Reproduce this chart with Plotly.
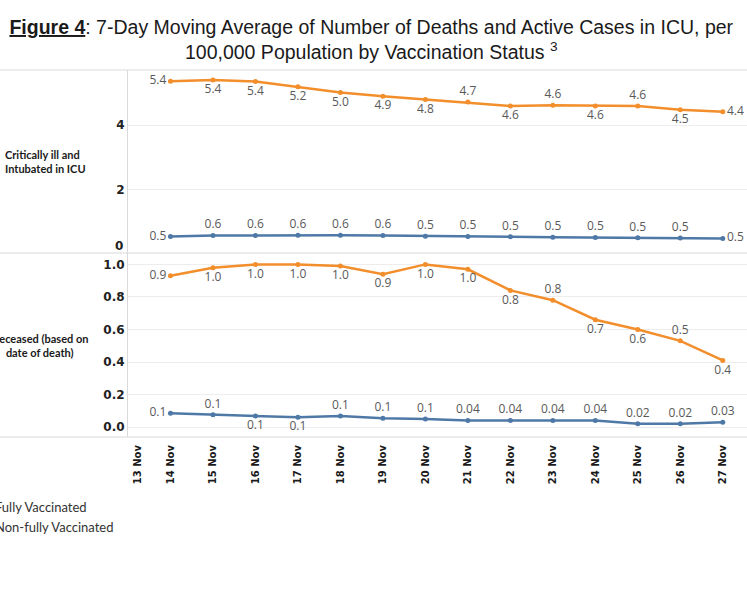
import plotly.graph_objects as go
from plotly.subplots import make_subplots

# --- data ---
tick_labels = ["13 Nov", "14 Nov", "15 Nov", "16 Nov", "17 Nov", "18 Nov", "19 Nov", "20 Nov",
               "21 Nov", "22 Nov", "23 Nov", "24 Nov", "25 Nov", "26 Nov", "27 Nov"]
dates = tick_labels[1:]

icu_full = [0.53, 0.56, 0.56, 0.57, 0.57, 0.56, 0.54, 0.53, 0.52, 0.51, 0.50, 0.49, 0.48, 0.47]
icu_nonfull = [5.37, 5.41, 5.36, 5.20, 5.02, 4.90, 4.80, 4.72, 4.60, 4.62, 4.60, 4.60, 4.48, 4.42]
dec_full = [0.085, 0.076, 0.068, 0.06, 0.068, 0.055, 0.05, 0.04, 0.04, 0.04, 0.04, 0.02, 0.02, 0.03]
dec_nonfull = [0.93, 0.98, 1.0, 1.0, 0.99, 0.94, 1.0, 0.97, 0.84, 0.78, 0.66, 0.60, 0.53, 0.41]

# --- styles ---
BLUE = "#4E79A7"
ORANGE = "#F28E2B"
GRID = "#ededed"
RULE = "#d9d9d9"
LABEL_FONT = dict(family="Open Sans", size=12, color="#595959")

L, T, B = 128, 70, 437   # plot area in pixels
W, H = 747, 598

x = [tick_labels.index(d) for d in dates]
tickvals = list(range(len(tick_labels)))
tickvals[0] = 0.24


def fmt(v):
    return f"{v:.2f}" if v < 0.05 else f"{v:.1f}"


def px_x(px):
    return (px - L) / (W - L)


def px_y(py):
    return (B - py) / (B - T)


up, dn, lf, rt = "top center", "bottom center", "middle left", "middle right"
pos_icu_full = [lf] + [up] * 12 + [rt]
pos_icu_nonfull = [lf, dn, dn, dn, dn, dn, dn, up, dn, up, dn, up, dn, rt]
pos_dec_full = [lf, up, dn, dn, up, up, up, up, up, up, up, up, up, up]
pos_dec_nonfull = [lf, dn, dn, dn, dn, dn, dn, dn, dn, up, dn, dn, up, dn]

fig = make_subplots(rows=2, cols=1, shared_xaxes=True, vertical_spacing=0)


def add_line(vals, pos, color, name, row, legend):
    fig.add_trace(go.Scatter(
        x=x, y=vals, mode="lines+markers+text",
        text=[fmt(v) for v in vals], textposition=pos, textfont=LABEL_FONT,
        line=dict(color=color, width=2.5), marker=dict(color=color, size=5),
        name=name, showlegend=legend, cliponaxis=False, hoverinfo="skip"
    ), row=row, col=1)


add_line(icu_full, pos_icu_full, BLUE, "Fully Vaccinated", 1, True)
add_line(icu_nonfull, pos_icu_nonfull, ORANGE, "Non-fully Vaccinated", 1, True)
add_line(dec_full, pos_dec_full, BLUE, "Fully Vaccinated", 2, False)
add_line(dec_nonfull, pos_dec_nonfull, ORANGE, "Non-fully Vaccinated", 2, False)

# horizontal rules across the whole width
for py in (T, 253, B):
    fig.add_shape(type="line", xref="paper", yref="paper",
                  x0=px_x(0), x1=1, y0=px_y(py), y1=px_y(py),
                  line=dict(color=RULE, width=1))

row_font = dict(family="Lato", size=11, color="#1a1a1a", weight="bold")
fig.add_annotation(text="Critically ill and<br>Intubated in ICU", xref="paper", yref="paper",
                   x=0, xshift=3 - L, y=px_y(161), xanchor="left", yanchor="middle",
                   align="left", showarrow=False, font=row_font)
fig.add_annotation(text="Deceased (based on<br>date of death)", xref="paper", yref="paper",
                   x=0, xshift=39 - L, y=px_y(345), xanchor="center", yanchor="middle",
                   align="center", showarrow=False, font=row_font)

ytick_font = dict(family="DejaVu Sans", size=12, color="#222222", weight="bold")
# the "0" of the upper panel sits a little above its gridline, as in the original
fig.add_annotation(text="0", xref="paper", yref="y", x=0, xshift=-3, y=0, yshift=8,
                   xanchor="right", yanchor="middle", showarrow=False, font=ytick_font)

fig.update_layout(
    width=W, height=H,
    paper_bgcolor="white", plot_bgcolor="white",
    margin=dict(l=L, r=0, t=T, b=H - B, autoexpand=False),
    title=dict(
        text="<b><u>Figure 4</u></b>: 7-Day Moving Average of Number of Deaths and Active Cases in ICU, per"
             "<br>100,000 Population by Vaccination Status <sup>3</sup>",
        x=0.497, xref="container", xanchor="center",
        y=1 - 34 / H, yref="container", yanchor="top",
        font=dict(family="Liberation Sans", size=19.5, color="#1a1a1a")
    ),
    legend=dict(x=px_x(-45), y=px_y(492), xanchor="left", yanchor="top",
                font=dict(family="Lato", size=13, color="#333333"),
                bgcolor="rgba(0,0,0,0)", tracegroupgap=0),
    showlegend=True
)

fig.update_xaxes(range=[0, 14.57], tickvals=tickvals, ticktext=tick_labels,
                 showgrid=False, zeroline=False, showline=False, ticks="")
fig.update_xaxes(showticklabels=False, row=1, col=1)
fig.update_xaxes(tickangle=-90, ticklabelstandoff=5,
                 tickfont=dict(family="DejaVu Sans", size=10, color="#1a1a1a", weight="bold"),
                 row=2, col=1)

fig.update_yaxes(range=[0, 5.72], tickvals=[0, 2, 4], ticktext=["", "2", "4"], row=1, col=1)
fig.update_yaxes(range=[-0.061, 1.067], tickvals=[0, 0.2, 0.4, 0.6, 0.8, 1.0], tickformat=".1f", row=2, col=1)
fig.update_yaxes(showgrid=True, gridcolor=GRID, zeroline=False, showline=True, linecolor=RULE,
                 ticks="", tickfont=ytick_font)

fig.write_html("out.html", config={"displayModeBar": False},
               post_script="document.body.style.margin='0';")
